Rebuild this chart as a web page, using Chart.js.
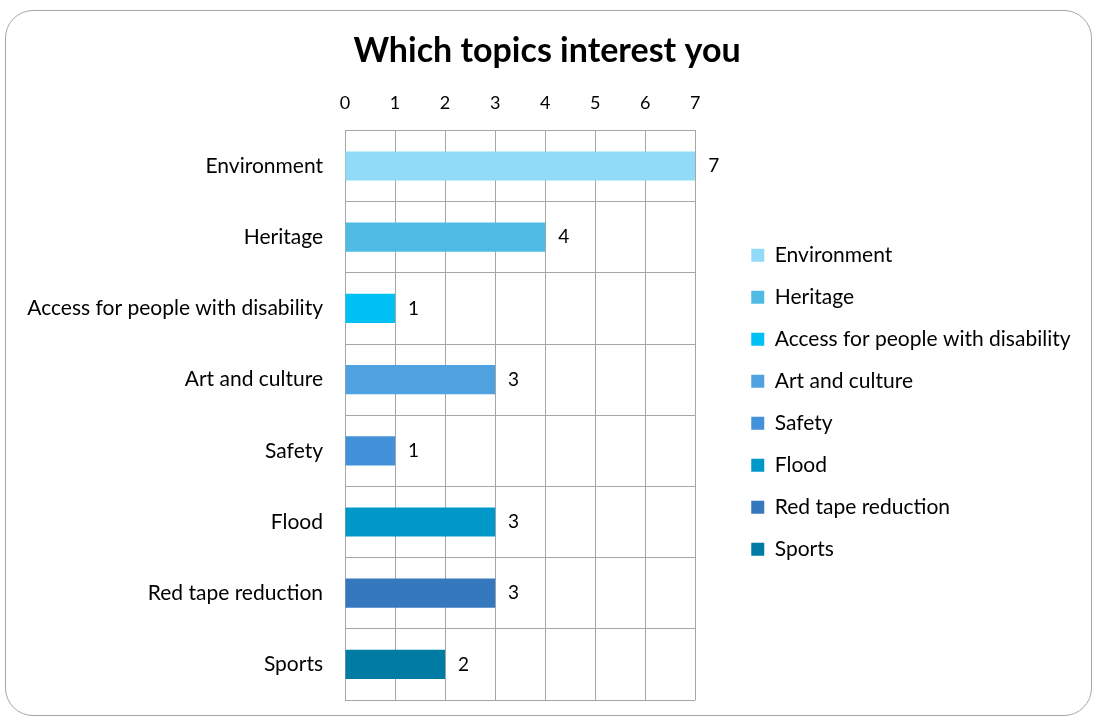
<!DOCTYPE html>
<html>
<head>
<meta charset="utf-8">
<script src="https://cdn.jsdelivr.net/npm/chart.js@4.4.1/dist/chart.umd.min.js"></script>
<style>
  html, body { margin: 0; padding: 0; background: #fff; }
  #wrap { position: relative; width: 1094px; height: 717px; overflow: hidden; }
  #frame {
    position: absolute; left: 5px; top: 10px; width: 1087px; height: 706px;
    border: 1px solid #a6a6a6; border-radius: 28px; box-sizing: border-box;
  }
  canvas { position: absolute; left: 0; top: 0; }
</style>
</head>
<body>
<div id="wrap">
  <div id="frame"></div>
  <canvas id="topicsChart" width="1094" height="717"></canvas>
</div>
<script>
const topics = ["Environment", "Heritage", "Access for people with disability", "Art and culture",
    "Safety", "Flood", "Red tape reduction", "Sports"];
const counts = [7, 4, 1, 3, 1, 3, 3, 2];
const barColors = ["#92dbf8", "#4fbbe4", "#00c1f3", "#50a1e0", "#4391d8", "#0097c9", "#3578be", "#007ba4"];
const xTicks = [0, 1, 2, 3, 4, 5, 6, 7];

const fontFamily = "Lato, 'Open Sans', sans-serif";
const gridColor = "#a6a6a6";

// value labels just past the end of each bar
const barValueLabels = {
    id: "barValueLabels",
    afterDatasetsDraw(chart) {
        const ctx = chart.ctx;
        const meta = chart.getDatasetMeta(0);
        ctx.save();
        ctx.font = "19px " + fontFamily;
        ctx.fillStyle = "#000";
        ctx.textBaseline = "middle";
        ctx.textAlign = "left";
        meta.data.forEach(function (bar, i) {
            ctx.fillText(String(counts[i]), bar.x + 13, bar.y);
        });
        ctx.restore();
    }
};

// title centred on the whole canvas, legend column moved right of the plot
const layoutTweaks = {
    id: "layoutTweaks",
    afterLayout(chart) {
        const t = chart.titleBlock;
        t.left = 0;
        t.right = chart.width;
        t.width = chart.width;

        const lg = chart.legend;
        const area = chart.chartArea;
        const dx = area.right + 56 - (lg.left + lg.options.labels.padding);
        lg.left += dx;
        lg.right = chart.width;
        lg.width = lg.right - lg.left;
        const dy = (area.top + area.bottom) / 2 - 13 - (lg.top + lg.bottom) / 2;
        lg.top += dy;
        lg.bottom += dy;
    }
};

new Chart(document.getElementById("topicsChart").getContext("2d"), {
    type: "bar",
    data: {
        labels: topics,
        datasets: [{
            label: "Topics",
            data: counts,
            backgroundColor: barColors,
            borderWidth: 0,
            categoryPercentage: 1,
            barPercentage: 0.41
        }]
    },
    options: {
        responsive: false,
        animation: false,
        indexAxis: "y",
        layout: { padding: { top: 31, left: 0, right: 167, bottom: 17 } },
        scales: {
            x: {
                position: "top",
                min: 0,
                max: 7,
                afterBuildTicks: function (scale) {
                    scale.ticks = xTicks.map(function (v) { return { value: v }; });
                },
                ticks: { color: "#000", padding: 16, font: { family: fontFamily, size: 18 } },
                grid: { color: gridColor, drawTicks: false },
                border: { color: gridColor }
            },
            y: {
                afterFit: function (scale) {
                    scale.width = 345;
                    scale.paddingBottom = 0;
                },
                ticks: { color: "#000", padding: 22, font: { family: fontFamily, size: 21 } },
                grid: { color: gridColor, drawTicks: false },
                border: { color: gridColor }
            }
        },
        plugins: {
            title: {
                display: true,
                text: "Which topics interest you",
                color: "#000",
                font: { family: fontFamily, size: 34, weight: "bold" },
                padding: { top: 0, bottom: 5 }
            },
            legend: {
                position: "right",
                labels: {
                    color: "#000",
                    boxWidth: 13,
                    boxHeight: 13,
                    padding: 21,
                    font: { family: fontFamily, size: 21 },
                    generateLabels: function () {
                        return topics.map(function (t, i) {
                            return { text: t, fillStyle: barColors[i], strokeStyle: barColors[i], lineWidth: 0, index: i };
                        });
                    }
                }
            },
            tooltip: { enabled: false }
        }
    },
    plugins: [barValueLabels, layoutTweaks]
});
</script>
</body>
</html>
